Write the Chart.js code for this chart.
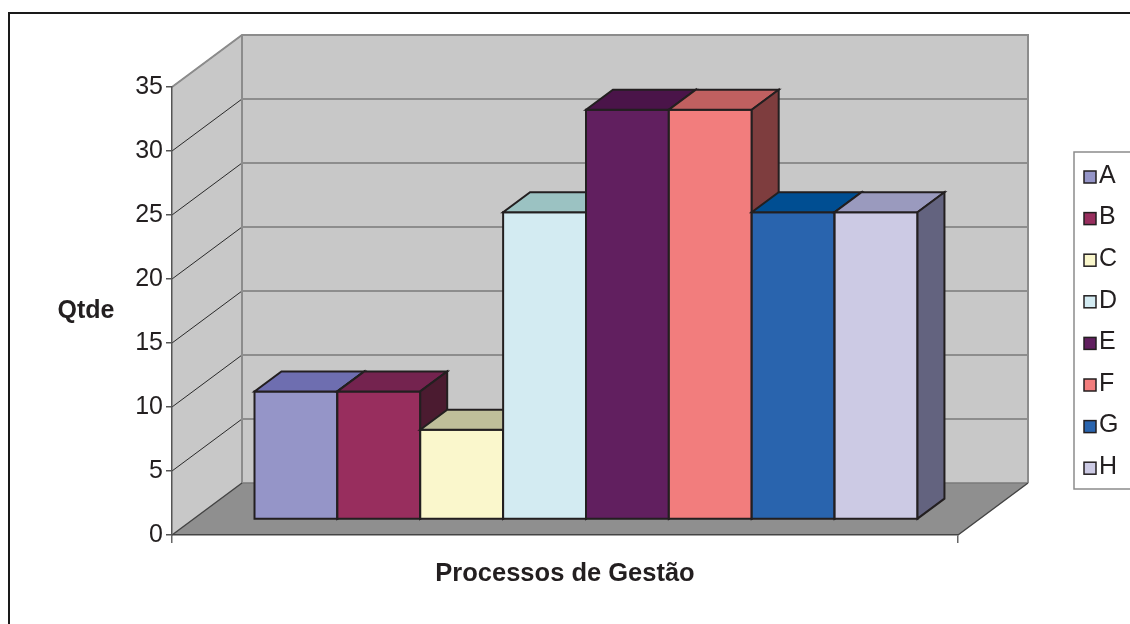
<!DOCTYPE html>
<html>
<head>
<meta charset="utf-8">
<script src="https://cdn.jsdelivr.net/npm/chart.js@4.4.1/dist/chart.umd.min.js"></script>
<style>
  html, body { margin: 0; padding: 0; background: #fff; }
  #wrap { width: 1130px; height: 624px; position: relative; }
</style>
</head>
<body>
<div id="wrap"><canvas id="chart"></canvas></div>
<script>
// data
const categories = ["Processos de Gestão"];
const seriesNames = ["A", "B", "C", "D", "E", "F", "G", "H"];
const seriesValues = [10, 10, 7, 24, 32, 32, 24, 24];
const yTicks = [0, 5, 10, 15, 20, 25, 30, 35];
const yTitle = "Qtde";

// colours of the three visible faces of each bar
const frontColors = ["#9595c8", "#982e5e", "#faf7cc", "#d3ebf2", "#611f5f", "#f27d7d", "#2964ae", "#cccae4"];
const topColors = ["#6e6eb0", "#74234f", "#bfbf9a", "#9bc2c2", "#4a1449", "#c06060", "#004e92", "#9a9abe"];
const sideColors = ["#4b4b66", "#4b1b30", "#7f7d66", "#6a7679", "#31102f", "#7e3d3e", "#15325a", "#63637f"];

const FONT = "'Liberation Sans', Arial, sans-serif";
const INK = "#231f20";

// oblique depth of the box (walls), and where bars sit inside it
const WALL = { dx: 70, dy: -52 };
const BAR_FRONT = 0.3;   // fraction of wall depth
const BAR_DEPTH = 0.385; // fraction of wall depth

function poly(ctx, pts, fill, stroke, lw) {
  ctx.beginPath();
  ctx.moveTo(pts[0][0], pts[0][1]);
  for (let i = 1; i < pts.length; i++) ctx.lineTo(pts[i][0], pts[i][1]);
  ctx.closePath();
  if (fill) { ctx.fillStyle = fill; ctx.fill(); }
  if (stroke) { ctx.strokeStyle = stroke; ctx.lineWidth = lw || 1; ctx.lineJoin = "miter"; ctx.stroke(); }
}

// walls, floor and gridlines behind everything
const box3d = {
  id: "box3d",
  beforeDraw(chart) {
    const ctx = chart.ctx;
    const a = chart.chartArea;
    const y = chart.scales.y;
    const L = a.left, R = a.right, T = a.top, B = a.bottom;
    const dx = WALL.dx, dy = WALL.dy;
    ctx.save();

    // outer frame
    ctx.beginPath();
    ctx.moveTo(9, 640);
    ctx.lineTo(9, 13);
    ctx.lineTo(1140, 13);
    ctx.strokeStyle = "#1a1a1a";
    ctx.lineWidth = 2;
    ctx.stroke();

    // back wall
    poly(ctx, [[L + dx, T + dy], [R + dx, T + dy], [R + dx, B + dy], [L + dx, B + dy]], "#c8c8c8");
    // side wall
    poly(ctx, [[L, B], [L, T], [L + dx, T + dy], [L + dx, B + dy]], "#c8c8c8");
    // floor
    poly(ctx, [[L, B], [R, B], [R + dx, B + dy], [L + dx, B + dy]], "#8f8f8f");

    // gridlines
    yTicks.forEach((v) => {
      const py = y.getPixelForValue(v);
      ctx.beginPath();
      ctx.moveTo(L + dx, py + dy);
      ctx.lineTo(R + dx, py + dy);
      ctx.strokeStyle = "#7a7a7a";
      ctx.lineWidth = 1.5;
      ctx.stroke();
      if (v > 0) {
        ctx.beginPath();
        ctx.moveTo(L, py);
        ctx.lineTo(L + dx, py + dy);
        ctx.strokeStyle = "#2a2a2a";
        ctx.lineWidth = 1;
        ctx.stroke();
      }
    });

    // wall edges
    ctx.strokeStyle = "#8c8c8c";
    ctx.lineWidth = 2;
    ctx.beginPath();
    ctx.moveTo(L, T);
    ctx.lineTo(L + dx, T + dy);
    ctx.lineTo(R + dx, T + dy);
    ctx.lineTo(R + dx, B + dy);
    ctx.moveTo(L + dx, T + dy);
    ctx.lineTo(L + dx, B + dy);
    ctx.stroke();

    // floor edges
    ctx.strokeStyle = "#444";
    ctx.lineWidth = 1.5;
    ctx.beginPath();
    ctx.moveTo(L, B);
    ctx.lineTo(L + dx, B + dy);
    ctx.moveTo(R, B);
    ctx.lineTo(R + dx, B + dy);
    ctx.stroke();

    ctx.restore();
  },
  beforeDatasetsDraw(chart) {
    const ctx = chart.ctx;
    const fx = WALL.dx * BAR_FRONT, fy = WALL.dy * BAR_FRONT;
    const bx = WALL.dx * BAR_DEPTH, by = WALL.dy * BAR_DEPTH;
    ctx.save();
    chart.data.datasets.forEach((ds, i) => {
      const meta = chart.getDatasetMeta(i);
      meta.data.forEach((bar) => {
        const p = bar.getProps(["x", "y", "base", "width"], true);
        const x0 = p.x - p.width / 2 + fx, x1 = p.x + p.width / 2 + fx;
        const top = p.y + fy, base = p.base + fy;
        // front
        poly(ctx, [[x0, top], [x1, top], [x1, base], [x0, base]], frontColors[i], INK, 2);
        // top
        poly(ctx, [[x0, top], [x1, top], [x1 + bx, top + by], [x0 + bx, top + by]], topColors[i], INK, 2);
        // right side
        poly(ctx, [[x1, top], [x1 + bx, top + by], [x1 + bx, base + by], [x1, base]], sideColors[i], INK, 2);
      });
    });
    ctx.restore();
    return false;
  },
  afterDraw(chart) {
    const ctx = chart.ctx;
    const y = chart.scales.y;
    ctx.save();
    // y axis title, horizontal
    ctx.font = "bold 25px " + FONT;
    ctx.fillStyle = INK;
    ctx.textAlign = "center";
    ctx.textBaseline = "middle";
    ctx.fillText(yTitle, 86, (y.top + y.bottom) / 2);

    // legend
    const lx = 1074, ly = 152, lh = 337;
    ctx.strokeStyle = "#8c8c8c";
    ctx.lineWidth = 1.5;
    ctx.beginPath();
    ctx.moveTo(1140, ly);
    ctx.lineTo(lx, ly);
    ctx.lineTo(lx, ly + lh);
    ctx.lineTo(1140, ly + lh);
    ctx.stroke();
    const step = 41.6;
    const first = ly + 24;
    ctx.font = "25px " + FONT;
    ctx.textAlign = "left";
    chart.data.datasets.forEach((ds, i) => {
      const cy = first + i * step;
      ctx.fillStyle = frontColors[i];
      ctx.fillRect(1084, cy - 5, 12, 12);
      ctx.strokeStyle = INK;
      ctx.lineWidth = 1.5;
      ctx.strokeRect(1084, cy - 5, 12, 12);
      ctx.fillStyle = INK;
      ctx.fillText(ds.label, 1099, cy);
    });
    ctx.restore();
  }
};

const datasets = seriesNames.map((name, i) => ({
  label: name,
  data: [seriesValues[i]],
  backgroundColor: frontColors[i],
  borderWidth: 0
}));

new Chart(document.getElementById("chart"), {
  type: "bar",
  data: { labels: categories, datasets: datasets },
  options: {
    responsive: true,
    maintainAspectRatio: false,
    animation: false,
    layout: { padding: { left: 100, right: 172, top: 87, bottom: 35 } },
    datasets: { bar: { categoryPercentage: 0.8435, barPercentage: 1.0 } },
    plugins: { legend: { display: false }, tooltip: { enabled: false } },
    scales: {
      x: {
        afterFit(scale) { scale.height = 54; },
        grid: { offset: true, drawOnChartArea: false, tickLength: 8, color: "#666", lineWidth: 1.5 },
        border: { color: "#444", width: 1.5 },
        ticks: { display: false },
        title: {
          display: true,
          text: categories[0],
          color: INK,
          font: { family: FONT, size: 25.5, weight: "bold" },
          padding: { top: 0, bottom: 0 }
        }
      },
      y: {
        min: 0,
        max: 35,
        afterFit(scale) { scale.width = 72; },
        afterBuildTicks(scale) { scale.ticks = yTicks.map((v) => ({ value: v })); },
        grid: { drawOnChartArea: false, tickLength: 6, color: "#555", lineWidth: 1.5 },
        border: { color: "#555", width: 1.5 },
        ticks: { color: INK, padding: 3, font: { family: FONT, size: 25 } }
      }
    }
  },
  plugins: [box3d]
});
</script>
</body>
</html>
